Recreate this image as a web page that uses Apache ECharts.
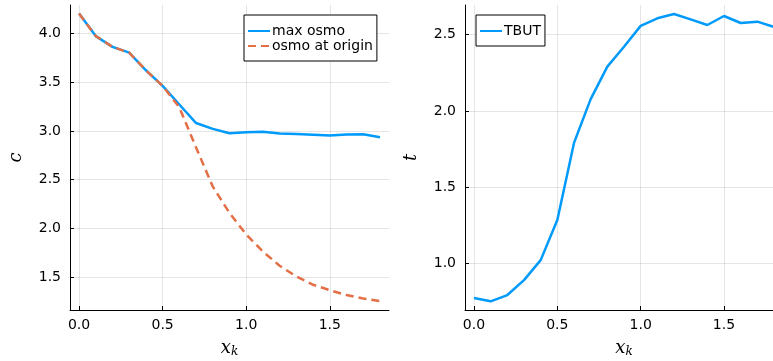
<!DOCTYPE html>
<html>
<head>
<meta charset="utf-8">
<script src="https://cdn.jsdelivr.net/npm/echarts@6/dist/echarts.min.js"></script>
<style>
  html, body { margin: 0; padding: 0; background: #fff; }
  #chart { width: 773px; height: 361px; }
</style>
</head>
<body>
<div id="chart"></div>
<script>
// Sample positions along x_k
const xk = [0.0, 0.1, 0.2, 0.3, 0.4, 0.5, 0.6, 0.7, 0.8, 0.9, 1.0, 1.1, 1.2, 1.3, 1.4, 1.5, 1.6, 1.7, 1.8];

// Left panel: osmolarity
const maxOsmo = [4.20, 3.97, 3.86, 3.80, 3.62, 3.46, 3.27, 3.08, 3.02, 2.975, 2.986, 2.99, 2.972, 2.967, 2.96, 2.952, 2.962, 2.965, 2.935];
const osmoAtOrigin = [4.20, 3.97, 3.86, 3.80, 3.62, 3.46, 3.24, 2.83, 2.43, 2.16, 1.94, 1.765, 1.62, 1.51, 1.425, 1.37, 1.32, 1.285, 1.258];

// Right panel: break-up time
const tbut = [0.773, 0.752, 0.793, 0.891, 1.022, 1.285, 1.79, 2.077, 2.29, 2.42, 2.557, 2.607, 2.635, 2.60, 2.563, 2.622, 2.576, 2.585, 2.55];

// Tick labels
const xTicks = [0.0, 0.5, 1.0, 1.5];
const cTicks = [1.5, 2.0, 2.5, 3.0, 3.5, 4.0];
const tTicks = [1.0, 1.5, 2.0, 2.5];

const BLUE = '#009AFA';
const ORANGE = '#E36F47';
const SANS = 'DejaVu Sans';

const pairs = ys => xk.map((x, i) => [x, ys[i]]);

function xAxisFor(gridIndex) {
  return {
    type: 'value', gridIndex,
    min: -0.054, max: 1.854,
    name: '{v|x}{s|k}', nameLocation: 'middle', nameGap: 28,
    nameTextStyle: {
      rich: {
        v: { fontFamily: 'DejaVu Serif', fontStyle: 'italic', fontSize: 18, color: '#000' },
        s: { fontFamily: 'DejaVu Serif', fontStyle: 'italic', fontSize: 12, color: '#000', padding: [8, 0, 0, 0] }
      }
    },
    axisLine: { show: true, onZero: false, lineStyle: { color: '#000', width: 1 } },
    axisTick: { show: true, inside: true, length: 4, customValues: xTicks, lineStyle: { color: '#000' } },
    axisLabel: {
      customValues: xTicks, margin: 8,
      fontFamily: SANS, fontSize: 14, color: '#000',
      formatter: v => v.toFixed(1)
    },
    splitLine: { show: true, lineStyle: { color: 'rgba(0,0,0,0.1)', width: 1 } }
  };
}

function yAxisFor(gridIndex, lo, hi, ticks, label, gap) {
  return {
    type: 'value', gridIndex,
    min: lo, max: hi,
    name: label, nameLocation: 'middle', nameGap: gap, nameRotate: 90,
    nameTextStyle: { fontFamily: 'DejaVu Serif', fontStyle: 'italic', fontSize: 18, color: '#000' },
    axisLine: { show: true, onZero: false, lineStyle: { color: '#000', width: 1 } },
    axisTick: { show: true, inside: true, length: 4, customValues: ticks, lineStyle: { color: '#000' } },
    axisLabel: {
      customValues: ticks, margin: 9,
      fontFamily: SANS, fontSize: 14, color: '#000',
      formatter: v => v.toFixed(1)
    },
    splitLine: { show: true, lineStyle: { color: 'rgba(0,0,0,0.1)', width: 1 } }
  };
}

const legendBase = {
  orient: 'vertical',
  backgroundColor: '#fff',
  borderColor: '#000', borderWidth: 1, borderRadius: 0,
  padding: [9, 4, 8, 3],
  itemWidth: 22, itemHeight: 14, itemGap: 1,
  itemStyle: { opacity: 0 },
  textStyle: { fontFamily: SANS, fontSize: 14, color: '#000', padding: [0, 0, 0, -3] }
};

const chart = echarts.init(document.getElementById('chart'), null, { renderer: 'canvas' });
chart.setOption({
  animation: false,
  backgroundColor: '#fff',
  grid: [
    { left: 70, top: 5, width: 319, height: 305, outerBoundsMode: 'none', containLabel: false },
    { left: 465, top: 5, width: 318, height: 305, outerBoundsMode: 'none', containLabel: false }
  ],
  xAxis: [xAxisFor(0), xAxisFor(1)],
  yAxis: [
    yAxisFor(0, 1.167, 4.288, cTicks, 'c', 45),
    yAxisFor(1, 0.695, 2.694, tTicks, 't', 45)
  ],
  legend: [
    Object.assign({}, legendBase, { left: 244, top: 15, data: ['max osmo', 'osmo at origin'] }),
    Object.assign({}, legendBase, { left: 476, top: 15, data: ['TBUT'] })
  ],
  series: [
    {
      name: 'max osmo', type: 'line', xAxisIndex: 0, yAxisIndex: 0,
      data: pairs(maxOsmo), symbol: 'none', color: BLUE,
      lineStyle: { color: BLUE, width: 2.5 }, z: 3
    },
    {
      name: 'osmo at origin', type: 'line', xAxisIndex: 0, yAxisIndex: 0,
      data: pairs(osmoAtOrigin), symbol: 'none', color: ORANGE,
      lineStyle: { color: ORANGE, width: 2.5, type: [8, 5] }, z: 4
    },
    {
      name: 'TBUT', type: 'line', xAxisIndex: 1, yAxisIndex: 1,
      data: pairs(tbut), symbol: 'none', color: BLUE,
      lineStyle: { color: BLUE, width: 2.5 }
    }
  ]
});
</script>
</body>
</html>
